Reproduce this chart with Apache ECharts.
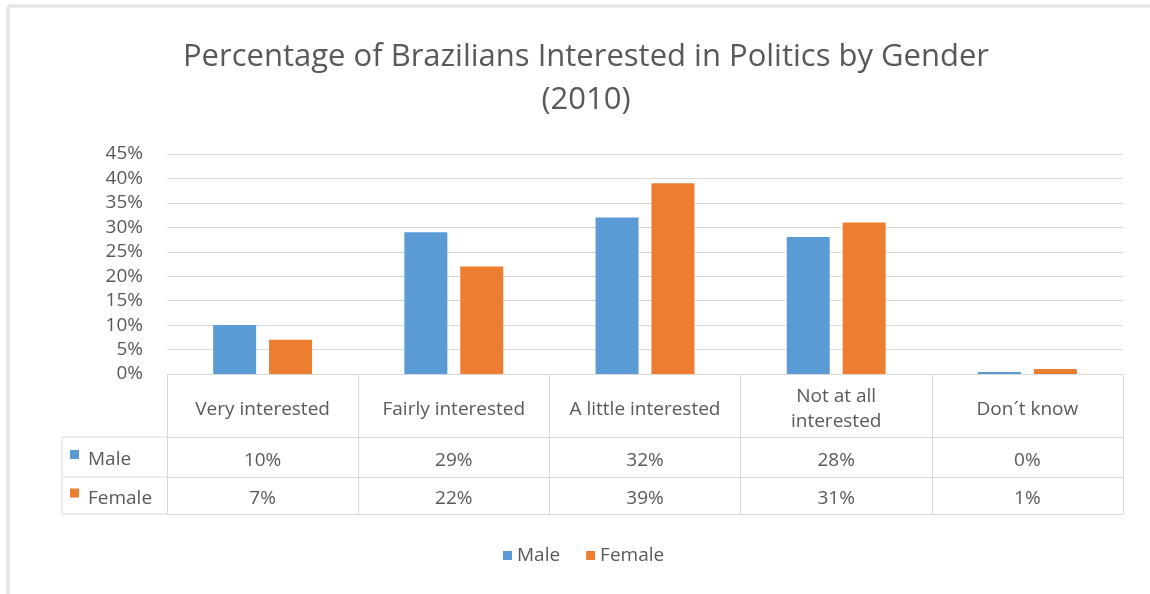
<!DOCTYPE html>
<html>
<head>
<meta charset="utf-8">
<script src="https://cdn.jsdelivr.net/npm/echarts@6/dist/echarts.min.js"></script>
<style>
  html, body { margin: 0; padding: 0; background: #ffffff; }
  #chart { width: 1150px; height: 594px; }
</style>
</head>
<body>
<div id="chart"></div>
<script>
// Survey responses (percent), one entry per interest level
const categories = ['Very interested', 'Fairly interested', 'A little interested', 'Not at all interested', 'Don\u00b4t know'];
const maleValues = [10, 29, 32, 28, 0];
const femaleValues = [7, 22, 39, 31, 1];
const seriesNames = ['Male', 'Female'];
const yTicks = [0, 5, 10, 15, 20, 25, 30, 35, 40, 45];

const BLUE = '#5b9bd5';
const ORANGE = '#ed7d31';
const GRID = '#d9d9d9';
const TEXT = '#595959';
const FONT = '"Open Sans", sans-serif';
const CELL_FONT = 19;

// plot area and data-table geometry
const G = { left: 167, right: 27, top: 154, bottom: 220 };
const ROW_CAT = 63, ROW_M = 40, ROW_F = 37;
const axisY = 594 - G.bottom;
const tableLeft = 62;

function wrapLabel(s) {
  if (s.length <= 19) return s;
  const words = s.split(' ');
  let first = '';
  while (words.length && (first + words[0]).length <= 11) first += words.shift() + ' ';
  return first.trim() + '\n' + words.join(' ');
}

const chart = echarts.init(document.getElementById('chart'), null, { renderer: 'canvas' });

const baseAxis = {
  type: 'category',
  data: categories,
  position: 'bottom',
  axisLine: { show: true, lineStyle: { color: GRID, width: 1 } },
  axisTick: { show: true, alignWithLabel: false, interval: 0, lineStyle: { color: GRID, width: 1 } },
  axisLabel: { interval: 0, color: TEXT, fontFamily: FONT, fontSize: CELL_FONT, verticalAlign: 'middle', lineHeight: 25 },
  splitLine: { show: false }
};

const rowY = [axisY + ROW_CAT, axisY + ROW_CAT + ROW_M, axisY + ROW_CAT + ROW_M + ROW_F];

const option = {
  backgroundColor: '#ffffff',
  animation: false,
  title: {
    text: 'Percentage of Brazilians Interested in Politics by Gender\n(2010)',
    left: 581,
    textAlign: 'center',
    top: 31,
    textStyle: { color: TEXT, fontFamily: FONT, fontWeight: 'normal', fontSize: 31, lineHeight: 43 }
  },
  legend: {
    data: seriesNames,
    bottom: 24,
    left: 498,
    icon: 'rect',
    itemWidth: 9,
    itemHeight: 9,
    itemGap: 26,
    textStyle: { color: TEXT, fontFamily: FONT, fontSize: CELL_FONT }
  },
  grid: { left: G.left, right: G.right, top: G.top, bottom: G.bottom, containLabel: false },
  xAxis: [
    Object.assign({}, baseAxis, {
      axisTick: Object.assign({}, baseAxis.axisTick, { length: ROW_CAT }),
      axisLabel: Object.assign({}, baseAxis.axisLabel, { margin: ROW_CAT / 2 + 4, formatter: wrapLabel })
    }),
    Object.assign({}, baseAxis, {
      offset: ROW_CAT,
      axisTick: Object.assign({}, baseAxis.axisTick, { length: ROW_M }),
      axisLabel: Object.assign({}, baseAxis.axisLabel, { margin: ROW_M / 2 + 4, formatter: (v, i) => maleValues[i] + '%' })
    }),
    Object.assign({}, baseAxis, {
      offset: ROW_CAT + ROW_M,
      axisTick: Object.assign({}, baseAxis.axisTick, { length: ROW_F }),
      axisLabel: Object.assign({}, baseAxis.axisLabel, { margin: ROW_F / 2 + 3, formatter: (v, i) => femaleValues[i] + '%' })
    }),
    Object.assign({}, baseAxis, {
      offset: ROW_CAT + ROW_M + ROW_F,
      axisTick: { show: false },
      axisLabel: { show: false }
    })
  ],
  yAxis: {
    type: 'value',
    min: yTicks[0],
    max: yTicks[yTicks.length - 1],
    interval: yTicks[1] - yTicks[0],
    axisLine: { show: false },
    axisTick: { show: false },
    axisLabel: { color: TEXT, fontFamily: FONT, fontSize: 19, margin: 24, formatter: v => v + '%' },
    splitLine: { show: true, lineStyle: { color: GRID, width: 1 } }
  },
  series: [
    {
      name: seriesNames[0], type: 'bar', data: maleValues, xAxisIndex: 0,
      barWidth: 43, barGap: '30%', barMinHeight: 2,
      itemStyle: { color: BLUE }
    },
    {
      name: seriesNames[1], type: 'bar', data: femaleValues, xAxisIndex: 0,
      barWidth: 43, barGap: '30%', barMinHeight: 2,
      itemStyle: { color: ORANGE }
    }
  ],
  graphic: [
    // chart frame edges
    { type: 'line', shape: { x1: 8, y1: 6, x2: 8, y2: 594 }, style: { stroke: '#e3e3e3', lineWidth: 3 }, silent: true },
    { type: 'line', shape: { x1: 8, y1: 6, x2: 1150, y2: 6 }, style: { stroke: '#e3e3e3', lineWidth: 3 }, silent: true },
    // legend-key column of the data table
    { type: 'line', shape: { x1: tableLeft, y1: rowY[0], x2: G.left, y2: rowY[0] }, style: { stroke: GRID, lineWidth: 1 }, silent: true },
    { type: 'line', shape: { x1: tableLeft, y1: rowY[1], x2: G.left, y2: rowY[1] }, style: { stroke: GRID, lineWidth: 1 }, silent: true },
    { type: 'line', shape: { x1: tableLeft, y1: rowY[2], x2: G.left, y2: rowY[2] }, style: { stroke: GRID, lineWidth: 1 }, silent: true },
    { type: 'line', shape: { x1: tableLeft, y1: rowY[0], x2: tableLeft, y2: rowY[2] }, style: { stroke: GRID, lineWidth: 1 }, silent: true },
    { type: 'rect', shape: { x: 70, y: (rowY[0] + rowY[1]) / 2 - 7, width: 9, height: 9 }, style: { fill: BLUE }, silent: true },
    { type: 'text', x: 88, y: (rowY[0] + rowY[1]) / 2 + 3, style: { text: seriesNames[0], fill: TEXT, font: CELL_FONT + 'px ' + FONT, verticalAlign: 'middle' }, silent: true },
    { type: 'rect', shape: { x: 70, y: (rowY[1] + rowY[2]) / 2 - 7, width: 9, height: 9 }, style: { fill: ORANGE }, silent: true },
    { type: 'text', x: 88, y: (rowY[1] + rowY[2]) / 2 + 3, style: { text: seriesNames[1], fill: TEXT, font: CELL_FONT + 'px ' + FONT, verticalAlign: 'middle' }, silent: true }
  ]
};

chart.setOption(option);
</script>
</body>
</html>
